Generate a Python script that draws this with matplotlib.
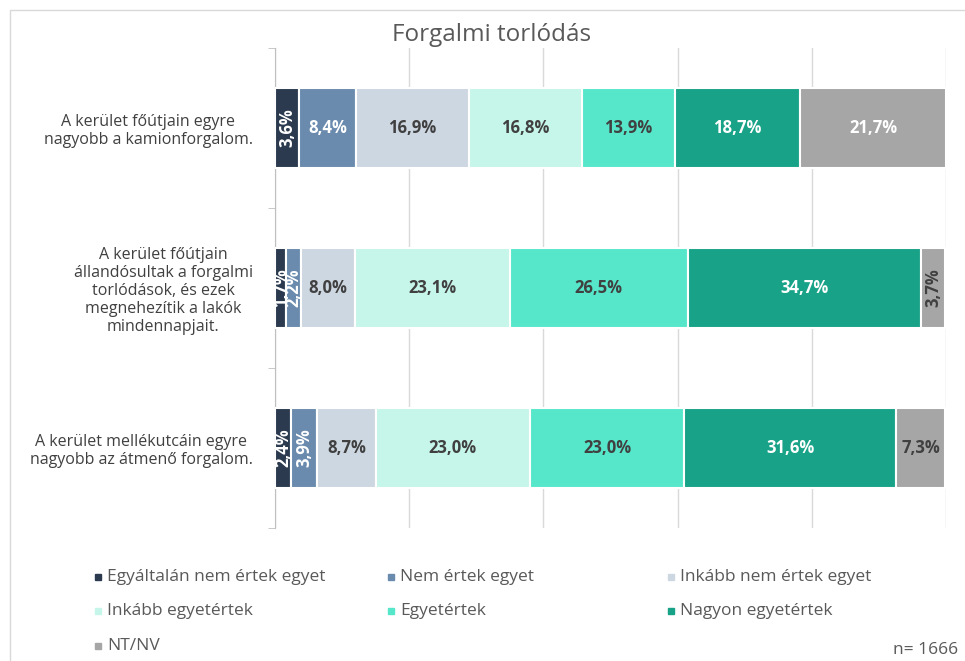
import numpy as np
import matplotlib.pyplot as plt
from matplotlib.lines import Line2D
from matplotlib.patches import Rectangle

title = 'Forgalmi torlódás'
statements = [
    'A kerület főútjain egyre\nnagyobb a kamionforgalom.',
    'A kerület főútjain\nállandósultak a forgalmi\ntorlódások, és ezek\nmegnehezítik a lakók\nmindennapjait.',
    'A kerület mellékutcáin egyre\nnagyobb az átmenő forgalom.',
]
answers = ['Egyáltalán nem értek egyet', 'Nem értek egyet', 'Inkább nem értek egyet',
           'Inkább egyetértek', 'Egyetértek', 'Nagyon egyetértek', 'NT/NV']
# percentages per statement (rows) and answer (columns)
values = np.array([
    [3.6, 8.4, 16.9, 16.8, 13.9, 18.7, 21.7],
    [1.7, 2.2, 8.0, 23.1, 26.5, 34.7, 3.7],
    [2.4, 3.9, 8.7, 23.0, 23.0, 31.6, 7.3],
])
n_text = 'n= 1666'

colors = ['#2B3A4F', '#6A8BAE', '#CDD7E1', '#C6F6EA', '#56E6CA', '#18A287', '#A6A6A6']
text_colors = ['white', 'white', '#404040', '#404040', '#404040', 'white', 'white']

plt.rcParams['font.family'] = ['Open Sans', 'DejaVu Sans']

fig = plt.figure(figsize=(9.65, 6.61), dpi=100)
ax = fig.add_axes([275 / 965, 1 - 528 / 661, 671 / 965, 480 / 661])

ypos = np.arange(len(statements))
left = np.zeros(len(statements))
for j, ans in enumerate(answers):
    vals = values[:, j]
    ax.barh(ypos, vals, left=left, height=0.5, color=colors[j],
            edgecolor='white', linewidth=1.5, zorder=3, label=ans)
    for i, v in enumerate(vals):
        tc = text_colors[j]
        if j == 6 and v < 10:
            tc = '#404040'
        rot = 90 if v < 5 else 0
        ax.text(left[i] + v / 2, ypos[i], f'{v:.1f}%'.replace('.', ','),
                ha='center', va='center', rotation=rot, color=tc,
                fontsize=12, fontweight='bold', zorder=4)
    left += vals

ax.set_xlim(0, 100)
ax.set_ylim(2.5, -0.5)
ax.set_xticks(np.arange(0, 101, 20))
ax.tick_params(axis='x', length=0, labelbottom=False)
ax.grid(axis='x', color='#D9D9D9', linewidth=1, zorder=0)
ax.set_yticks(ypos)
ax.set_yticklabels(statements, fontsize=11.5, color='#404040', multialignment='center',
                   linespacing=1.15)
ax.tick_params(axis='y', which='major', length=0, pad=16)
ax.set_yticks([-0.5, 0.5, 1.5, 2.5], minor=True)
ax.tick_params(axis='y', which='minor', length=5, color='#BFBFBF')
for s in ['top', 'right', 'bottom']:
    ax.spines[s].set_visible(False)
ax.spines['left'].set_color('#BFBFBF')

fig.text(492 / 965, 1 - 35 / 661, title, ha='center', va='center',
         fontsize=17.5, color='#595959')

# legend in three columns, filled row by row
col_x = [98, 391, 671]
row_y = [577, 611, 646]
for k, ans in enumerate(answers):
    r, c = divmod(k, 3)
    x = col_x[c] / 965
    y = 1 - row_y[r] / 661
    fig.add_artist(Line2D([x], [y], marker='s', markersize=5, color=colors[k],
                          linestyle='none', transform=fig.transFigure))
    fig.text(x + 9 / 965, y, ans, ha='left', va='center', fontsize=12.5, color='#595959')

fig.text(958 / 965, 1 - 650 / 661, n_text, ha='right', va='center', fontsize=12.5, color='#595959')

fig.add_artist(Rectangle((10 / 965, -0.05), 1.1, 1 - 10 / 661 + 0.05, transform=fig.transFigure,
                         fill=False, edgecolor='#D9D9D9', linewidth=1))

fig.savefig('out.png', dpi=100)
plt.close()
